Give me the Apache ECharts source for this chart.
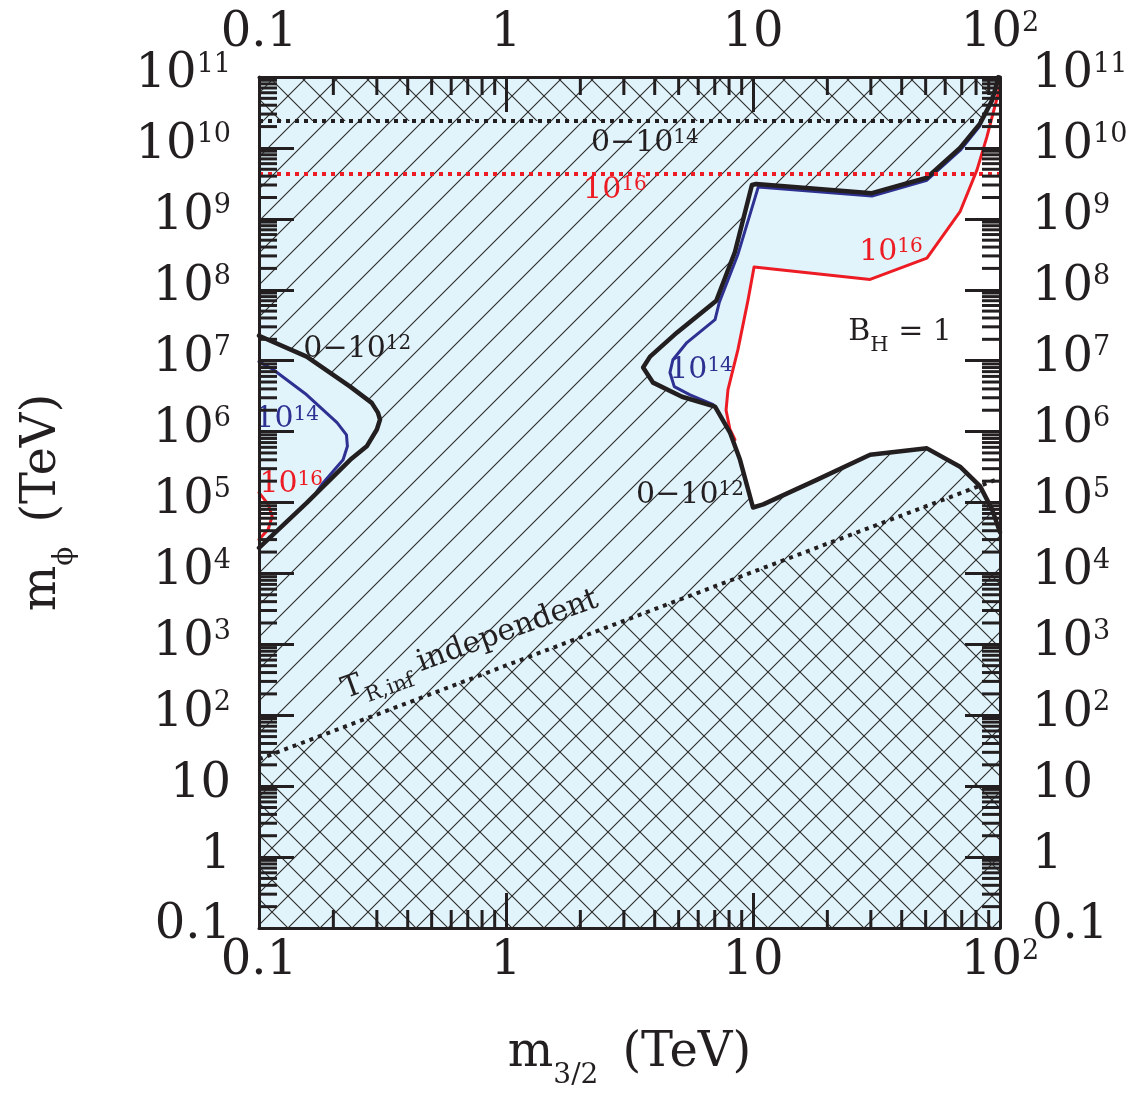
<!DOCTYPE html>
<html><head><meta charset="utf-8">
<script src="https://cdn.jsdelivr.net/npm/echarts/dist/echarts.min.js"></script>
<style>html,body{margin:0;padding:0;background:#fff}#main{width:1141px;height:1101px}</style>
</head><body><div id="main"></div>
<script>
// ---------- axes ----------
const xTickExps = [-1, 0, 1, 2];
const xTickLabels = ['0.1', '1', '10', '10^2'];
const yTickExps = [-1, 0, 1, 2, 3, 4, 5, 6, 7, 8, 9, 10, 11];
const yTickLabels = ['0.1', '1', '10', '10^2', '10^3', '10^4', '10^5', '10^6', '10^7', '10^8', '10^9', '10^10', '10^11'];
const xRange = [0.1, 100];
const yRange = [0.1, 1e11];

// ---------- curves (m3/2 [TeV], mphi [TeV]) ----------
const blackLeft = [[0.1, 2.25e7], [0.156, 1.14e7], [0.234, 4.3e6], [0.286, 2.54e6], [0.303, 1.85e6], [0.309, 1.48e6], [0.300, 1.07e6], [0.273, 6.2e5], [0.234, 4.0e5], [0.156, 9.9e4], [0.1, 2.3e4]];
const blueLeft = [[0.1, 9.7e6], [0.114, 7.5e6], [0.156, 3.3e6], [0.207, 1.34e6], [0.226, 9.0e5], [0.228, 6.2e5], [0.219, 4.0e5], [0.182, 1.9e5], [0.172, 1.45e5]];
const redLeft = [[0.1, 1.38e5], [0.109, 9.4e4], [0.113, 6.4e4], [0.109, 4.2e4], [0.1, 3.0e4]];

const blackRightUpper = [[98.5, 1.0e11], [97.8, 9.0e10], [92.9, 4.7e10], [83, 2.2e10], [68.9, 1.0e10], [50.6, 3.8e9], [30.3, 2.3e9], [10.3, 3.1e9], [9.9, 3.0e9], [8.45, 3.4e8], [7.1, 7.0e7], [4.93, 2.5e7], [3.83, 1.14e7], [3.59, 8.0e6], [3.94, 4.9e6], [5.16, 3.1e6], [7.02, 2.25e6], [8.07, 9.7e5]];
const blackRightLower = [[8.86, 4.0e5], [10, 8.5e4], [11, 9.4e4], [18.2, 2.1e5], [29.8, 4.7e5], [50.6, 5.8e5], [68.9, 3.2e5], [83, 1.7e5], [92.9, 8.0e4], [100, 3.8e4]];
const blueRight = [[83, 2.05e10], [68.9, 9.2e9], [50.6, 3.5e9], [30.3, 2.1e9], [10.5, 2.8e9], [8.7, 3.2e8], [7.3, 6.6e7], [7.02, 3.8e7], [5.4, 1.8e7], [4.74, 1.03e7], [4.61, 6.8e6], [4.8, 4.3e6], [5.56, 3.3e6], [6.9, 2.4e6]];
const redRight = [[100, 7.5e10], [97.5, 5.2e10], [88.5, 1.43e10], [80.7, 4.9e9], [68.9, 1.26e9], [50.6, 2.8e8], [29.8, 1.4e8], [10.1, 2.1e8], [9.55, 7.2e7], [8.69, 1.43e7], [7.92, 3.9e6], [7.78, 2.0e6], [8.07, 1.07e6], [8.45, 7.7e5]];

// dotted lines
const topBlackDotY = 2.4e10;
const topRedDotY = 4.3e9;
const trLine = [[0.1, 24], [100, 2.2e5]];

// annotations [text, x, y, colour key, rotation]
const annotations = [
  ['0−10^14', 3.65, 1.1e10, 'k', 0],
  ['10^16', 2.76, 2.4e9, 'r', 0],
  ['0−10^12', 0.25, 1.38e7, 'k', 0],
  ['10^14', 0.13, 1.38e6, 'b', 0],
  ['10^16', 0.135, 1.68e5, 'r', 0],
  ['10^14', 6.16, 6.8e6, 'b', 0],
  ['0−10^12', 5.56, 1.2e5, 'k', 0],
  ['10^16', 36.2, 3.2e8, 'r', 0],
  ['B_H = 1', 39.4, 2.4e7, 'k', 0],
  ['T_R,inf independent', 0.72, 920, 'k', 20]
];

// ---------- styling ----------
const F = 'DejaVu Serif';
const INK = '#231f20', RED = '#ed1c24', BLUE = '#2e3192', LB = '#e1f4fb';
const COL = { k: INK, r: RED, b: BLUE };
const lg = Math.log10;
const P = pts => pts.map(p => [lg(p[0]), lg(p[1])]);

function hatch(kind, bg) {
  const s = 32, c = document.createElement('canvas');
  c.width = s; c.height = s;
  const g = c.getContext('2d');
  if (bg) { g.fillStyle = bg; g.fillRect(0, 0, s, s); }
  g.strokeStyle = '#2b2b2b'; g.lineWidth = 1.1;
  g.beginPath();
  if (kind === '/') {
    g.moveTo(-4, s + 4); g.lineTo(s + 4, -4);
    g.moveTo(-4, 4); g.lineTo(4, -4);
    g.moveTo(s - 4, s + 4); g.lineTo(s + 4, s - 4);
  } else {
    g.moveTo(-4, -4); g.lineTo(s + 4, s + 4);
    g.moveTo(-4, s - 4); g.lineTo(4, s + 4);
    g.moveTo(s - 4, -4); g.lineTo(s + 4, 4);
  }
  g.stroke();
  return { type: 'pattern', image: c, repeat: 'repeat' };
}

function richText(s, n, sp, sb) {
  let out = '', i = 0, buf = '';
  const flush = () => { if (buf) { out += '{' + n + '|' + buf + '}'; buf = ''; } };
  while (i < s.length) {
    const c = s[i];
    if (c === '^' || c === '_') {
      flush();
      let j = i + 1, t = '';
      while (j < s.length && s[j] !== ' ' && s[j] !== '=') { t += s[j]; j++; }
      out += '{' + (c === '^' ? sp : sb) + '|' + t + '}';
      i = j;
    } else { buf += c; i++; }
  }
  flush();
  return out;
}

function polySeries(id, pts, fill, z) {
  return {
    type: 'custom', id, z, silent: true, clip: true,
    xAxisIndex: 0, yAxisIndex: 0, data: [[-1, -1]],
    renderItem: (params, api) => ({
      type: 'polygon',
      shape: { points: pts.map(p => api.coord([lg(p[0]), lg(p[1])])) },
      style: { fill: fill }
    })
  };
}
function lineSeries(id, pts, color, width, z, dash) {
  return {
    type: 'line', id, z, silent: true, symbol: 'none', showSymbol: false, clip: true,
    data: P(pts),
    lineStyle: { color, width, opacity: 1, type: dash || 'solid', cap: dash ? 'butt' : 'round', join: 'round' }
  };
}

const tickRich = {
  b: { fontFamily: F, fontSize: 48, lineHeight: 52, color: INK, verticalAlign: 'top' },
  s: { fontFamily: F, fontSize: 27, lineHeight: 30, color: INK, verticalAlign: 'top' }
};
function fmt(exps, labels) {
  return v => { const i = exps.indexOf(Math.round(v)); return i < 0 ? '' : richText(labels[i], 'b', 's', 'u'); };
}
function axis(kind, pos, margin) {
  const isX = kind === 'x';
  return {
    type: 'value', position: pos,
    min: isX ? lg(xRange[0]) : lg(yRange[0]),
    max: isX ? lg(xRange[1]) : lg(yRange[1]),
    interval: 1, z: 50,
    axisLine: { show: true, onZero: false, lineStyle: { color: INK, width: 3 } },
    axisTick: { show: true, inside: true, length: 35, lineStyle: { color: INK, width: 3 } },
    splitLine: { show: false },
    axisLabel: {
      show: true, margin, hideOverlap: false, showMinLabel: true, showMaxLabel: true,
      formatter: isX ? fmt(xTickExps, xTickLabels) : fmt(yTickExps, yTickLabels),
      rich: tickRich
    }
  };
}

const nameRich = {
  m: { fontFamily: F, fontSize: 48, lineHeight: 56, color: INK, verticalAlign: 'top' },
  u: { fontFamily: F, fontSize: 28, lineHeight: 30, color: INK, verticalAlign: 'top', padding: [32, 0, 0, 0] },
  p: { fontFamily: F, fontSize: 48, lineHeight: 56, color: INK, verticalAlign: 'top', padding: [0, 0, 0, 24] }
};

const xBottom = axis('x', 'bottom', 10);
xBottom.name = '{m|m}{u|3/2}{p|(TeV)}';
xBottom.nameLocation = 'middle';
xBottom.nameGap = 102;
xBottom.nameTextStyle = { rich: nameRich };
const yLeft = axis('y', 'left', 28);
yLeft.name = '{m|m}{u|ϕ}{p|(TeV)}';
yLeft.nameLocation = 'middle';
yLeft.nameRotate = 90;
yLeft.nameGap = 184;
yLeft.nameTextStyle = { rich: nameRich };

// minor log ticks
const yMinor = [], xMinor = [];
for (let k = yTickExps[0]; k < yTickExps[yTickExps.length - 1]; k++) for (let m = 2; m <= 9; m++) yMinor.push(k + lg(m));
for (let k = xTickExps[0]; k < xTickExps[xTickExps.length - 1]; k++) for (let m = 2; m <= 9; m++) xMinor.push(k + lg(m));
const ML = 18;
const tickStyle = { stroke: INK, lineWidth: 3 };

const series = [];
const plotArea = [[xRange[0], yRange[0]], [xRange[1], yRange[0]], [xRange[1], yRange[1]], [xRange[0], yRange[1]]];
series.push(polySeries('base', plotArea, hatch('/', LB), 1));
series.push(polySeries('crossTop', [[xRange[0], topBlackDotY], [xRange[1], topBlackDotY], [xRange[1], yRange[1]], [xRange[0], yRange[1]]], hatch('\\'), 2));
series.push(polySeries('crossBottom', trLine.concat([[xRange[1], yRange[0]], [xRange[0], yRange[0]]]), hatch('\\'), 2));
series.push(polySeries('lobeLeft', blackLeft, LB, 3));
series.push(polySeries('regionRight', [[xRange[1], yRange[1]]].concat(blackRightUpper, blackRightLower), LB, 3));
series.push(polySeries('whiteRight', redRight.concat(blackRightLower), '#ffffff', 4));
series.push(polySeries('whiteLeft', redLeft, '#ffffff', 4));

series.push(lineSeries('blueL', blueLeft, BLUE, 3, 10));
series.push(lineSeries('redL', redLeft, RED, 3, 10));
series.push(lineSeries('blueR', blueRight, BLUE, 3, 10));
series.push(lineSeries('redR', redRight, RED, 3, 10));
series.push(lineSeries('blackL', blackLeft, INK, 4.5, 11));
series.push(lineSeries('blackR', blackRightUpper.concat(blackRightLower), INK, 4.5, 11));
series.push(lineSeries('dotTopK', [[xRange[0], topBlackDotY], [xRange[1], topBlackDotY]], INK, 4, 12, [4, 5]));
series.push(lineSeries('dotTopR', [[xRange[0], topRedDotY], [xRange[1], topRedDotY]], RED, 4, 12, [4, 5]));
series.push(lineSeries('dotTR', trLine, INK, 4, 12, [4, 5]));

annotations.forEach((a, i) => {
  const c = COL[a[3]];
  const isTR = a[4] !== 0;
  series.push({
    type: 'scatter', id: 'ann' + i, z: 40, silent: true, symbolSize: 1,
    itemStyle: { color: 'rgba(0,0,0,0)', opacity: 1 },
    data: [[lg(a[1]), lg(a[2])]],
    label: {
      show: true, position: 'inside', rotate: a[4], opacity: 1, color: c,
      formatter: richText(a[0], 'n', 's', 'u'),
      rich: {
        n: { fontFamily: F, fontSize: 30, lineHeight: 34, color: c, opacity: 1, verticalAlign: 'top' },
        s: { fontFamily: F, fontSize: 20, lineHeight: 22, color: c, opacity: 1, verticalAlign: 'top' },
        u: { fontFamily: F, fontSize: 21, lineHeight: 22, color: c, opacity: 1, verticalAlign: 'top', padding: [18, 0, 0, 0] }
      }
    }
  });
});

series.push({
  type: 'custom', id: 'yMinor', z: 45, silent: true, clip: false,
  xAxisIndex: 0, yAxisIndex: 0,
  data: yMinor.map(v => [lg(xRange[0]), v]),
  renderItem: (params, api) => {
    const v = api.value(1);
    const a = api.coord([lg(xRange[0]), v]), b = api.coord([lg(xRange[1]), v]);
    return { type: 'group', children: [
      { type: 'line', shape: { x1: a[0], y1: a[1], x2: a[0] + ML, y2: a[1] }, style: tickStyle },
      { type: 'line', shape: { x1: b[0] - ML, y1: b[1], x2: b[0], y2: b[1] }, style: tickStyle }
    ] };
  }
});
series.push({
  type: 'custom', id: 'xMinor', z: 45, silent: true, clip: false,
  xAxisIndex: 0, yAxisIndex: 0,
  data: xMinor.map(v => [v, lg(yRange[0])]),
  renderItem: (params, api) => {
    const v = api.value(0);
    const a = api.coord([v, lg(yRange[0])]), b = api.coord([v, lg(yRange[1])]);
    return { type: 'group', children: [
      { type: 'line', shape: { x1: a[0], y1: a[1], x2: a[0], y2: a[1] - ML }, style: tickStyle },
      { type: 'line', shape: { x1: b[0], y1: b[1], x2: b[0], y2: b[1] + ML }, style: tickStyle }
    ] };
  }
});

const chart = echarts.init(document.getElementById('main'), null, { renderer: 'canvas' });
chart.setOption({
  animation: false,
  backgroundColor: '#ffffff',
  textStyle: { fontFamily: F },
  grid: { left: 259, right: 141, top: 77, bottom: 173, show: false },
  xAxis: [xBottom, axis('x', 'top', 15)],
  yAxis: [yLeft, axis('y', 'right', 32)],
  series
});
</script>
</body></html>
